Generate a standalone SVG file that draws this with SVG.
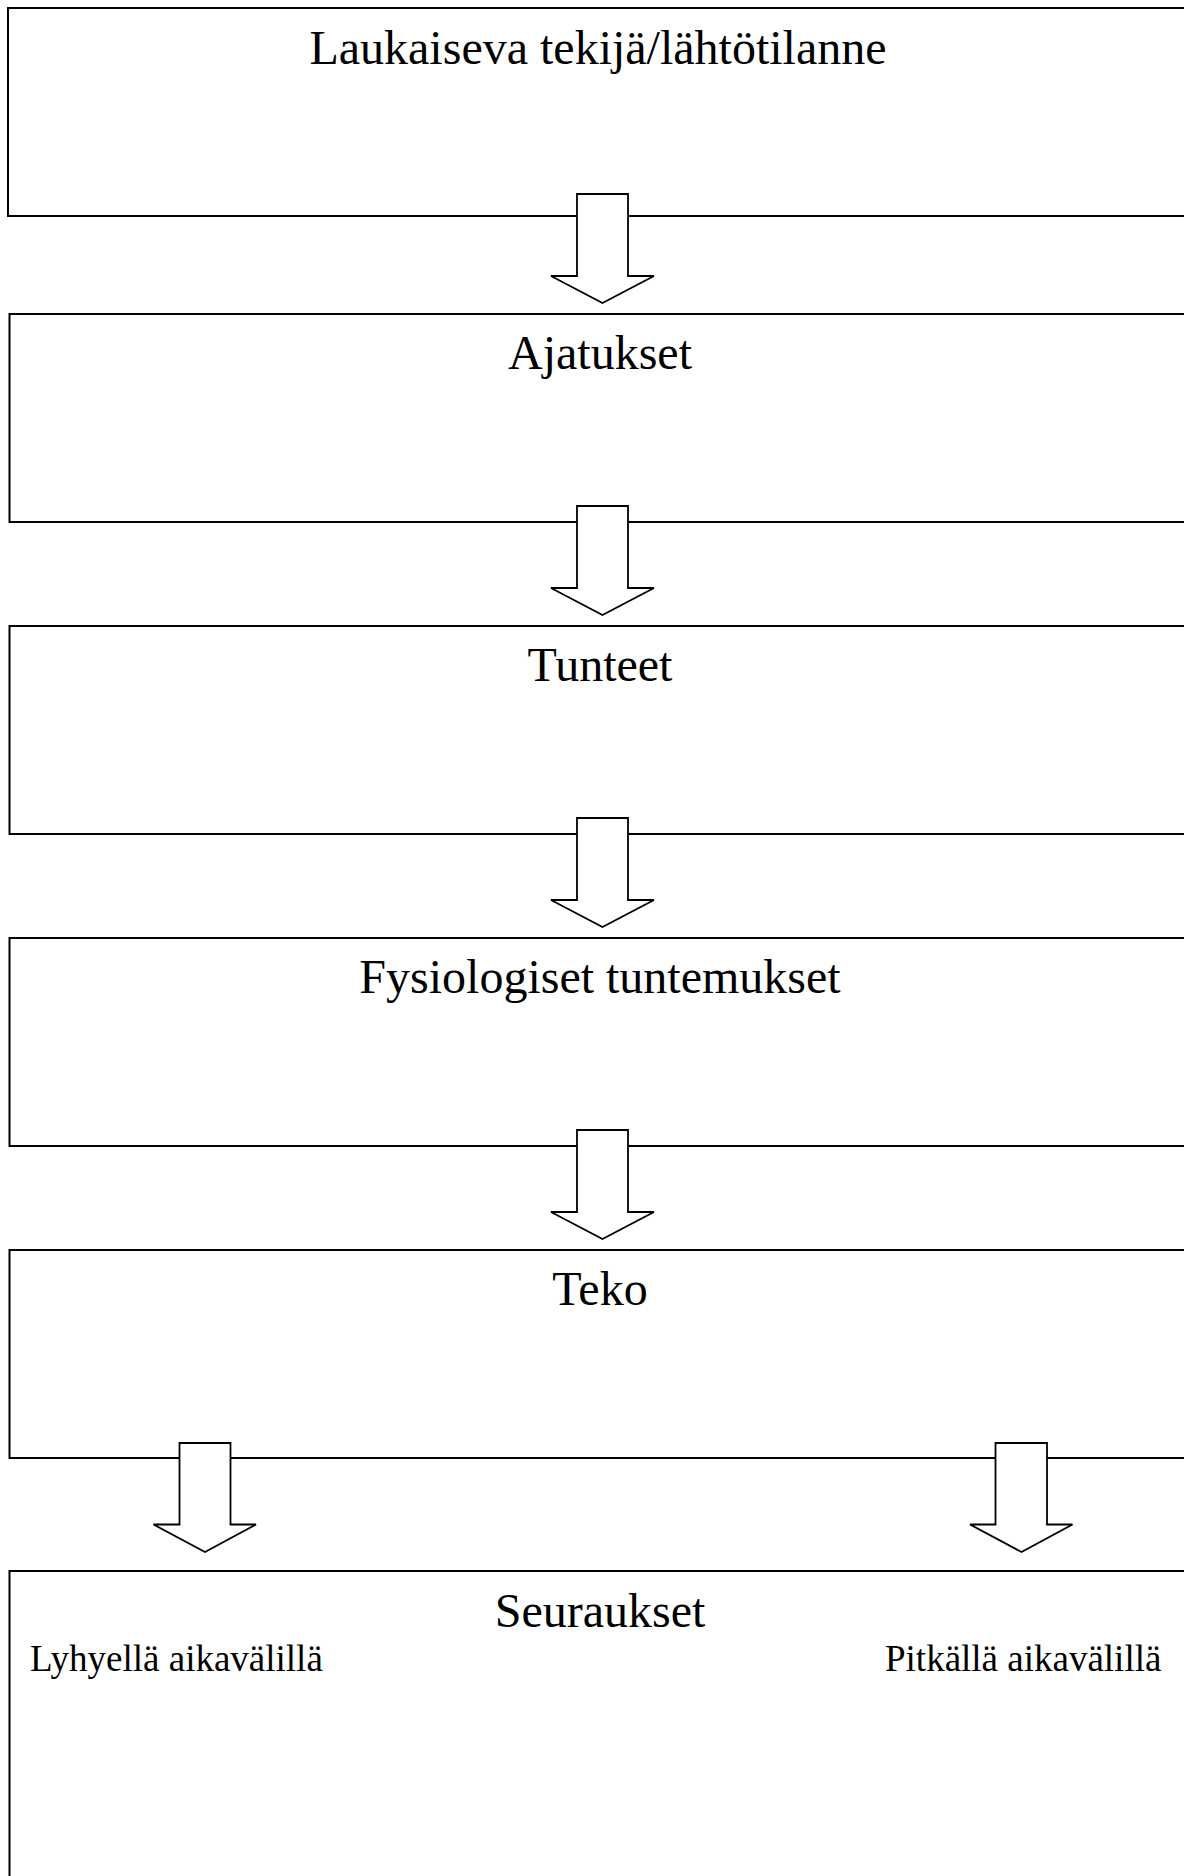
<svg xmlns="http://www.w3.org/2000/svg" width="1184" height="1876" viewBox="0 0 1184 1876">
<defs>
<style>
.box{fill:#fff;stroke:#000;stroke-width:2}
.arr{fill:#fff;stroke:#000;stroke-width:1.8;stroke-linejoin:miter}
.t{font-family:"Liberation Serif","Times New Roman",serif;fill:#000}
.h{font-size:48px;text-anchor:middle}
.s{font-size:37px}
</style>
</defs>
<rect width="1184" height="1876" fill="#fff"/>
<g id="n1"><rect class="box" x="8" y="8" width="1200" height="208"/><text class="t h" x="598" y="64">Laukaiseva tekijä/lähtötilanne</text></g>
<g id="n2"><rect class="box" x="9.5" y="314" width="1200" height="208"/><text class="t h" x="600" y="369">Ajatukset</text></g>
<g id="n3"><rect class="box" x="9.5" y="626" width="1200" height="208"/><text class="t h" x="600" y="681">Tunteet</text></g>
<g id="n4"><rect class="box" x="9.5" y="938" width="1200" height="208"/><text class="t h" x="600" y="993">Fysiologiset tuntemukset</text></g>
<g id="n5"><rect class="box" x="9.5" y="1250" width="1200" height="208"/><text class="t h" x="600" y="1305">Teko</text></g>
<g id="n6"><rect class="box" x="9.5" y="1571" width="1200" height="400"/><text class="t h" x="600" y="1627">Seuraukset</text><text class="t s" x="30" y="1671">Lyhyellä aikavälillä</text><text class="t s" x="885" y="1671">Pitkällä aikavälillä</text></g>
<g id="connectors">
<path class="arr" d="M577,194 H628 V276 H654 L602.5,303 L551,276 H577 Z"/>
<path class="arr" d="M577,506 H628 V588 H654 L602.5,615 L551,588 H577 Z"/>
<path class="arr" d="M577,818 H628 V900 H654 L602.5,927 L551,900 H577 Z"/>
<path class="arr" d="M577,1130 H628 V1212 H654 L602.5,1239 L551,1212 H577 Z"/>
<path class="arr" d="M179.5,1443 H230.5 V1524.5 H256 L205,1552 L153.5,1524.5 H179.5 Z"/>
<path class="arr" d="M995.5,1443 H1047 V1524.5 H1072.5 L1021.5,1552 L970,1524.5 H995.5 Z"/>
</g>
</svg>
